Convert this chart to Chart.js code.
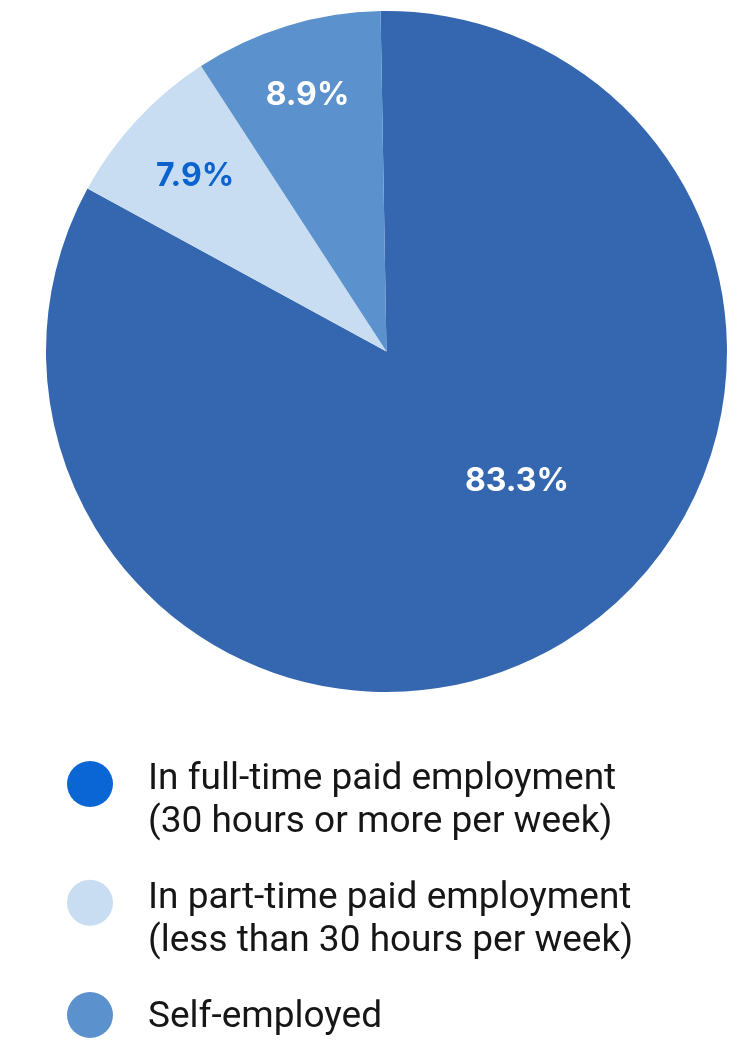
<!DOCTYPE html>
<html>
<head>
<meta charset="utf-8">
<script src="https://cdn.jsdelivr.net/npm/chart.js@4.4.1/dist/chart.umd.min.js"></script>
<style>
  html, body { margin: 0; padding: 0; background: #ffffff; }
  #wrap { width: 749px; height: 1042px; position: relative; }
</style>
</head>
<body>
<div id="wrap"><canvas id="employment"></canvas></div>
<script>
// Employment status breakdown
const categories = [
  ['In full-time paid employment', '(30 hours or more per week)'],
  ['In part-time paid employment', '(less than 30 hours per week)'],
  ['Self-employed']
];
const shares = [83.3, 7.9, 8.9];
const sliceColors = ['#3567b0', '#c8ddf2', '#5b91cc'];
const legendColors = ['#0a66d4', '#c8ddf2', '#5b91cc'];
const valueLabelColors = ['#ffffff', '#0b63ce', '#ffffff'];

const pct = v => v.toFixed(1) + '%';

// Percentage labels placed inside each slice
const sliceLabels = {
  id: 'sliceLabels',
  afterDatasetsDraw(chart, args, opts) {
    const ctx = chart.ctx;
    const meta = chart.getDatasetMeta(0);
    ctx.save();
    ctx.font = opts.font;
    ctx.textAlign = 'center';
    ctx.textBaseline = 'alphabetic';
    meta.data.forEach((arc, i) => {
      const p = arc.getProps(['x', 'y', 'startAngle', 'endAngle', 'outerRadius'], true);
      const a = (p.startAngle + p.endAngle) / 2 + opts.angleShift[i] * Math.PI / 180;
      const r = p.outerRadius * opts.radius[i];
      ctx.fillStyle = valueLabelColors[i];
      ctx.fillText(pct(shares[i]), p.x + r * Math.cos(a), p.y + r * Math.sin(a) + opts.capOffset);
    });
    ctx.restore();
  }
};

// Stacked legend below the pie, one entry per category
const stackedLegend = {
  id: 'stackedLegend',
  afterDraw(chart, args, opts) {
    const ctx = chart.ctx;
    ctx.save();
    ctx.font = opts.font;
    ctx.textAlign = 'left';
    ctx.textBaseline = 'alphabetic';
    let baseline = opts.firstBaseline;
    categories.forEach((lines, i) => {
      const dotY = lines.length > 1 ? baseline - opts.dotLiftMulti : baseline - opts.dotLiftSingle;
      ctx.beginPath();
      ctx.arc(opts.dotX, dotY, opts.dotRadius, 0, Math.PI * 2);
      ctx.fillStyle = legendColors[i];
      ctx.fill();
      ctx.fillStyle = opts.color;
      lines.forEach((line, j) => {
        ctx.fillText(line, opts.textX, baseline + j * opts.lineHeight);
      });
      baseline += (lines.length - 1) * opts.lineHeight + opts.itemGap;
    });
    ctx.restore();
  }
};

new Chart(document.getElementById('employment'), {
  type: 'pie',
  data: {
    labels: categories,
    datasets: [{
      data: shares,
      backgroundColor: sliceColors,
      borderWidth: 0,
      hoverOffset: 0
    }]
  },
  options: {
    responsive: true,
    maintainAspectRatio: false,
    animation: false,
    events: [],
    rotation: -1,
    layout: { padding: { left: 46, right: 22, top: 11, bottom: 350 } },
    plugins: {
      legend: { display: false },
      tooltip: { enabled: false },
      sliceLabels: {
        font: 'bold 32px Inter, Roboto, sans-serif',
        radius: [0.537, 0.766, 0.793],
        angleShift: [-14.3, 0, 0],
        capOffset: 11.5
      },
      stackedLegend: {
        font: '37px Roboto, "Noto Sans", sans-serif',
        color: '#161616',
        firstBaseline: 789,
        lineHeight: 43.3,
        itemGap: 75.5,
        textX: 148,
        dotX: 90,
        dotRadius: 23,
        dotLiftMulti: 5,
        dotLiftSingle: 11.5
      }
    }
  },
  plugins: [sliceLabels, stackedLegend]
});
</script>
</body>
</html>
